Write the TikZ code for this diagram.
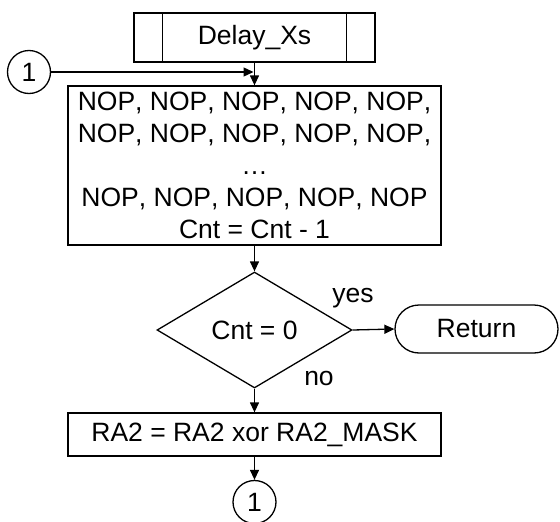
\documentclass[tikz,border=0pt]{standalone}
\usepackage{fontspec}
\setmainfont[Kerning=Off]{Liberation Sans}
\usetikzlibrary{arrows.meta,shapes.geometric}
\begin{document}
\begin{tikzpicture}[x=1pt,y=-1pt,
  every node/.style={font=\fontsize{26.5}{32}\selectfont, inner sep=0pt},
  box/.style={draw, line width=1.3pt, align=center},
  conn/.style={draw, circle, line width=1.3pt, minimum size=43pt},
  flow/.style={line width=1.3pt, -{Triangle[length=10pt,width=9pt]}},
  lbl/.style={}]
\useasboundingbox (0,0) rectangle (560,522);
\node[box, minimum width=241pt, minimum height=49pt] (start) at (254.5,37.5) {Delay\_Xs};
\draw[line width=1.3pt] ([xshift=29pt]start.north west) -- ([xshift=29pt]start.south west);
\draw[line width=1.3pt] ([xshift=-29pt]start.north east) -- ([xshift=-29pt]start.south east);
\node[conn] (c1) at (29,72) {1};
\node[box, minimum width=373pt, minimum height=159pt] (proc) at (254.5,165.5)
  {NOP, NOP, NOP, NOP, NOP,\\NOP, NOP, NOP, NOP, NOP,\\…\\NOP, NOP, NOP, NOP, NOP\\Cnt = Cnt - 1};
\node[draw, diamond, line width=1.3pt, aspect=1.68, minimum width=195pt, minimum height=116pt] (dec) at (254.5,330) {Cnt = 0};
\node[box, rounded corners=24pt, minimum width=163pt, minimum height=48pt] (ret) at (476.5,329) {Return};
\node[box, minimum width=373pt, minimum height=43pt] (ra) at (254.5,434.5) {RA2 = RA2 xor RA2\_MASK};
\node[conn] (c2) at (254.5,502) {1};
\coordinate (j) at (start.south |- c1);
\draw[flow] (start.south) -- (proc.north);
\draw[flow, shorten >=1pt] (c1.east) -- (j);
\draw[flow] (proc.south) -- (dec.north);
\draw[flow] (dec.east) -- (ret.west);
\draw[flow] (dec.south) -- (ra.north);
\draw[flow] (ra.south) -- (c2.north);
\node[lbl] (yes) at (353,298) {yes};
\node[lbl] (no) at (319,378) {no};
\end{tikzpicture}
\end{document}
